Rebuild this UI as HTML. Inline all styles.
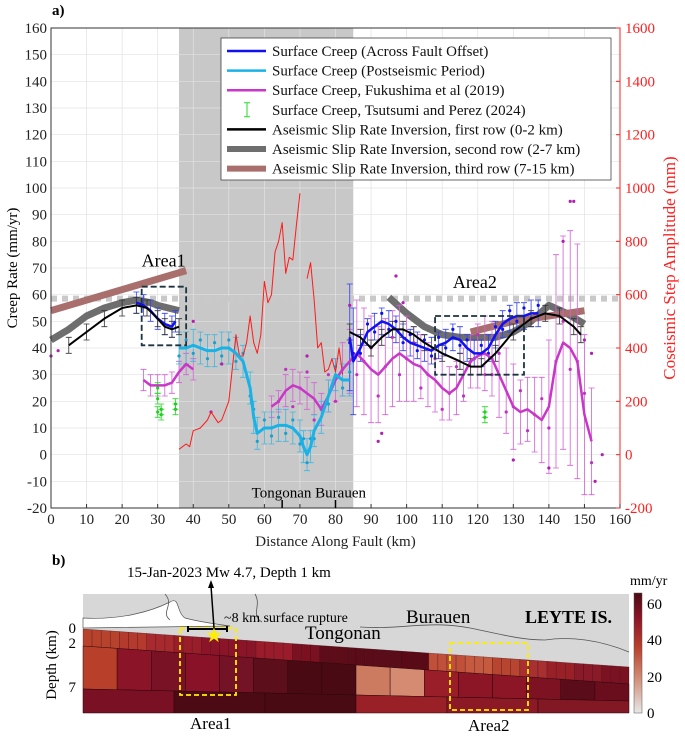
<!DOCTYPE html>
<html><head><meta charset="utf-8"><style>
body{margin:0;background:#fff;}
svg, svg text{font-family:"Liberation Serif","Times New Roman",serif !important;}
</style></head><body>
<svg id="fig" width="685" height="734" viewBox="0 0 685 734" xmlns="http://www.w3.org/2000/svg">
<g id="pa"></g>
<g id="pb"></g>
</svg>
<script>
// ---------- Panel a data ----------
const blueKm1=[24,26,28,30,32,34,35];
const blueV1=[57,56,54,51,49,48,50];
const blueKm2=[84,85,87,89,91,93,95,97,99,101,103,105,107,109,111,113,115,117,119,121,123,125,127,129,131,133,135,137];
const blueV2=[44,35,40,46,48,50,49,47,44,42,41,40,39,41,42,44,43,40,38,38,40,45,49,51,52,52,53,53];
const cyanKm=[36,38,40,42,44,46,48,50,52,54,56,57,58,60,62,64,66,68,70,71,72,73,74,76,78,80,82,84];
const cyanV=[40,40,41,40,39,39,40,40,38,35,25,14,8,10,10,11,11,10,7,3,0,3,9,14,22,30,28,28];
const magKm1=[26,28,30,32,34,36,38,40];
const magV1=[28,26,26,26,27,31,34,32];
const magKm2=[62,64,66,68,70,72,74,76,78,80,82,84,86,88,90,92,94,96,98,100,102,104,106,108,110,112,114,116,118,120,122,124,126,128,130,132,134,136,138,140,142,144,146,148,150,152];
const magV2=[18,20,24,26,25,23,21,17,22,28,32,35,38,35,32,30,33,36,38,36,34,33,30,28,25,23,25,30,35,37,38,36,30,24,18,16,17,15,13,18,35,42,40,35,15,5];
const magErr2=[4,4,6,6,6,6,6,6,6,8,10,12,20,20,20,18,18,18,18,16,14,12,12,12,12,10,10,10,10,12,14,14,16,16,16,12,12,14,16,25,40,40,44,44,30,20];
const blackKm1=[5,10,15,20,24,27,30,32,34,36];
const blackV1=[41,46,51,55,56,55,51,48,47,48];
const blackKm2=[84,87,90,93,96,99,102,105,110,115,118,121,125,130,135,139,143,147,149];
const blackV2=[46,44,40,44,47,47,45,42,38,35,33,33,38,46,51,53,52,48,45];
const grayKm1=[0,5,10,15,20,24,28,30,36];
const grayV1=[43,47,52,55,57,58,57,56,54];
const grayKm2=[95,100,105,110,115,120,125,130,135,140,145,150];
const grayV2=[59,53,48,45,44,44,44,46,50,56,53,49];
const brownKm1=[0,38];
const brownV1=[54,69];
const brownKm2=[118,130,150];
const brownV2=[46,50,54];
const redKm=[36,38,39,40,42,44,45,46,47,48,50,52,53,54,55,56,57,58,59,60,61,62,63,64,65,66,67,68,69,70];
const redMm=[20,40,30,90,100,130,160,140,120,130,200,450,370,370,420,520,420,380,450,650,570,600,760,800,870,680,740,730,860,980];
const redKm2=[72,73,74,75,76,77,78,79,80,81,82];
const redMm2=[660,720,580,400,420,310,320,360,310,400,300];
const greenKm=[30,30,30,31,31,35,35,122,122];
const greenV=[25,21,16,15,17,19,17,16,14];
const dotKm=[0,2,84,150,152,146,147,40,48,45,72,93,92,97,130,140,153,155,144,99,124];
const dotV=[37,39,56,43,38,95,95,50,34,16,37,8,5,67,-2,-5,-10,-0,80,57,30];
const xTicks=[0,10,20,30,40,50,60,70,80,90,100,110,120,130,140,150,160];
const yTicks=[-20,-10,0,10,20,30,40,50,60,70,80,90,100,110,120,130,140,150,160];
const y2Ticks=[-200,0,200,400,600,800,1000,1200,1400,1600];

const NS="http://www.w3.org/2000/svg";
function mk(parent,tag,attrs,name,txt){const e=document.createElementNS(NS,tag);for(const k in attrs)e.setAttribute(k,attrs[k]);


if(tag==='text')e.style.fontFamily="'Liberation Serif', serif";
if(txt!==undefined)e.textContent=txt;parent.appendChild(e);return e;}
const X0=51,X1=620,Y0=508,Y1=28;
const xs=v=>X0+(v-0)/160*(X1-X0);
const ys=v=>Y0-(v+20)/180*(Y0-Y1);
const ys2=v=>Y0-(v+200)/1800*(Y0-Y1);
const pa=document.getElementById('pa');
mk(pa,'rect',{x:xs(36),y:Y1,width:xs(85)-xs(36),height:Y0-Y1,fill:'#c8c8c8'},'postseismic-shading');
xTicks.forEach(t=>mk(pa,'line',{x1:xs(t),x2:xs(t),y1:Y1,y2:Y0,stroke:'#e2e2e2','stroke-width':0.7},'x-grid-line'));
yTicks.forEach(t=>mk(pa,'line',{x1:X0,x2:X1,y1:ys(t),y2:ys(t),stroke:'#e2e2e2','stroke-width':0.7},'y-grid-line'));
mk(pa,'line',{x1:X0,x2:X1,y1:ys(58.5),y2:ys(58.5),stroke:'#c9c9c9','stroke-width':6,'stroke-dasharray':'6,5'},'reference-line');
function line(km,v,col,w,name,yf){const f=yf||ys;mk(pa,'polyline',{points:km.map((k,i)=>xs(k)+','+f(v[i])).join(' '),fill:'none',stroke:col,'stroke-width':w,'stroke-linejoin':'round'},name);}
function errs(km,v,e,col,name){km.forEach((k,i)=>{const x=xs(k),a=ys(v[i]-e[i]),b=ys(v[i]+e[i]);
mk(pa,'path',{d:`M${x},${a}V${b}M${x-3},${a}h6M${x-3},${b}h6`,stroke:col,'stroke-width':0.8,fill:'none'},name);});}
function dots(km,v,col,name){km.forEach((k,i)=>mk(pa,'circle',{cx:xs(k),cy:ys(v[i]),r:1.6,fill:col},name));}
line(grayKm1,grayV1,'#6e6e6e',7,'second-row-line-area1');
line(grayKm2,grayV2,'#6e6e6e',7,'second-row-line-area2');
line(brownKm1,brownV1,'#a86f6c',7,'third-row-line-left');
line(brownKm2,brownV2,'#a86f6c',7,'third-row-line-right');
errs(magKm1,magV1,magKm1.map(()=>4),'#d65fd6','fukushima-errorbar');
errs(magKm2,magV2,magErr2,'#d65fd6','fukushima-errorbar');
errs(cyanKm,cyanV,cyanKm.map(()=>6),'#3fb6e0','postseismic-errorbar');
errs(blueKm1,blueV1,blueKm1.map(()=>4),'#3040f0','across-fault-errorbar');
errs(blueKm2,blueV2,blueKm2.map((k)=>k<86?20:5),'#3040f0','across-fault-errorbar');
errs(blackKm1,blackV1,blackKm1.map(()=>3),'#333','first-row-errorbar');
errs(blackKm2,blackV2,blackKm2.map(()=>3),'#333','first-row-errorbar');
errs(greenKm,greenV,greenKm.map(()=>2),'#22dd22','tsutsumi-errorbar');
dots(magKm2,magV2.map((v,i)=>v+(i%3-1)*8),'#c030c0','fukushima-point');
dots(cyanKm,cyanV.map((v,i)=>v+(i%2?3:-3)),'#1aa0d0','postseismic-point');
dots(blueKm2,blueV2.map((v,i)=>v+(i%2?3:-2)),'#1010ee','across-fault-point');
dots(dotKm,dotV,'#b020b0','scatter-point');
dots(greenKm,greenV,'#22cc22','tsutsumi-point');
line(redKm,redMm,'#ff1a1a',1,'coseismic-step-line',ys2);
line(redKm2,redMm2,'#ff1a1a',1,'coseismic-step-line-2',ys2);
line(magKm1,magV1,'#c837c8',2.5,'fukushima-line-1');
line(magKm2,magV2,'#c837c8',2.5,'fukushima-line-2');
line(cyanKm,cyanV,'#19b2e6',3,'postseismic-line');
line(blueKm1,blueV1,'#1010f0',2.5,'across-fault-line-1');
line(blueKm2,blueV2,'#1010f0',2.5,'across-fault-line-2');
line(blackKm1,blackV1,'#000',2,'first-row-line-1');
line(blackKm2,blackV2,'#000',2,'first-row-line-2');
mk(pa,'rect',{x:xs(25.5),y:ys(63),width:xs(38)-xs(25.5),height:ys(41)-ys(63),fill:'none',stroke:'#1c3340','stroke-width':1.8,'stroke-dasharray':'6,3'},'area1-box');
mk(pa,'rect',{x:xs(108),y:ys(52),width:xs(133)-xs(108),height:ys(30)-ys(52),fill:'none',stroke:'#1c3340','stroke-width':1.8,'stroke-dasharray':'6,3'},'area2-box');
mk(pa,'text',{x:xs(25.5),y:ys(70.5),'font-size':18},'area1-label','Area1');
mk(pa,'text',{x:xs(113),y:ys(62.5),'font-size':18},'area2-label','Area2');
mk(pa,'rect',{x:X0,y:Y1,width:X1-X0,height:Y0-Y1,fill:'none',stroke:'#333','stroke-width':1},'plot-frame');
mk(pa,'line',{x1:X1,x2:X1,y1:Y1,y2:Y0,stroke:'#ff2020','stroke-width':1},'right-axis-line');
xTicks.forEach(t=>{mk(pa,'line',{x1:xs(t),x2:xs(t),y1:Y0,y2:Y0-4,stroke:'#333'},'x-tick');
mk(pa,'text',{x:xs(t),y:Y0+16,'font-size':15,'text-anchor':'middle',fill:'#222'},'x-tick-label',t);});
yTicks.forEach(t=>mk(pa,'text',{x:X0-4,y:ys(t)+5,'font-size':15,'text-anchor':'end',fill:'#222'},'y-tick-label',t));
y2Ticks.forEach(t=>{mk(pa,'line',{x1:X1,x2:X1-4,y1:ys2(t),y2:ys2(t),stroke:'#ff2020'},'y2-tick');
mk(pa,'text',{x:X1+5,y:ys2(t)+5,'font-size':15,fill:'#ff2020'},'y2-tick-label',t);});
mk(pa,'text',{x:xs(80),y:546,'font-size':15,'text-anchor':'middle',fill:'#222'},'x-axis-title','Distance Along Fault (km)');
mk(pa,'text',{x:17,y:ys(70),'font-size':15,'text-anchor':'middle',transform:`rotate(-90 17 ${ys(70)})`},'y-axis-title','Creep Rate (mm/yr)');
mk(pa,'text',{x:675,y:ys(70),'font-size':17,'text-anchor':'middle',fill:'#ff2020',transform:`rotate(-90 675 ${ys(70)})`},'y2-axis-title','Coseismic Step Amplitude (mm)');
mk(pa,'text',{x:52,y:15,'font-size':15,'font-weight':'bold'},'panel-a-label','a)');
mk(pa,'text',{x:xs(72.5),y:ys(-16),'font-size':15,'text-anchor':'middle'},'town-labels','Tongonan  Burauen');
[65,80].forEach(k=>mk(pa,'line',{x1:xs(k),x2:xs(k),y1:Y0,y2:Y0-8,stroke:'#000','stroke-width':1.5},'town-tick'));
const lg=mk(pa,'g',{},'legend');
mk(lg,'rect',{x:221,y:38,width:390,height:142,fill:'#fff',stroke:'#444','stroke-width':0.8},'legend-box');
const legNames=['Surface Creep (Across Fault Offset)','Surface Creep (Postseismic Period)','Surface Creep, Fukushima et al (2019)','Surface Creep, Tsutsumi and Perez (2024)','Aseismic Slip Rate Inversion, first row (0-2 km)','Aseismic Slip Rate Inversion, second row (2-7 km)','Aseismic Slip Rate Inversion, third row (7-15 km)'];
const legCols=['#1010f0','#19b2e6','#c837c8','#22dd22','#000','#6e6e6e','#a86f6c'];
const legW=[2.5,2.5,2.5,1,2.5,6,6];
legNames.forEach((n,i)=>{const y=51+i*19.6;
if(i===3){mk(lg,'path',{d:`M247,${y-7}V${y+7}M244,${y-7}h6M244,${y+7}h6`,stroke:'#22dd22','stroke-width':1,fill:'none'},'legend-swatch');}
else mk(lg,'line',{x1:227,x2:266,y1:y,y2:y,stroke:legCols[i],'stroke-width':legW[i]},'legend-swatch');
mk(lg,'text',{x:272,y:y+5,'font-size':15,fill:'#111'},'legend-entry',n);});

// ---------- Panel b ----------
const pb=document.getElementById('pb');
const row1Cols=['#b8432c','#b43a2e','#a82a2e','#9a1e2a','#8c1428','#8a1428','#9a1c2a','#7a1020','#5e0c18','#5a0c18','#5a0c18','#5a0a16','#c0503a','#c55a3e','#b8452f','#a83030','#9a2028','#8a1a28','#7a1222'];
const row2Cols=['#b8402a','#8c1428','#7a1226','#8a1228','#741226','#5c0e1a','#4a0a14','#4a0a14','#cc7a60','#d58a72','#9a1e2a','#8c1626','#8c1626','#7c1222','#5a0c1a','#6a0e1e'];
const row3Cols=['#7a1024','#4c0a14','#4a0a14','#9a2028','#8c1a26','#821824'];
const BX0=83,BX1=629;
const topY=x=>629+(x-BX0)/(BX1-BX0)*38;
const midY=x=>646+(x-BX0)/(BX1-BX0)*38;
const botY=x=>689+(x-BX0)/(BX1-BX0)*12;
mk(pb,'rect',{x:BX0,y:594,width:BX1-BX0,height:119,fill:'#fff'},'map-bg');
mk(pb,'path',{d:`M${BX0},594 L629,594 L629,${topY(629)} L${BX0},${topY(BX0)} Z`,fill:'#d7d7d7'},'land-area');
mk(pb,'path',{d:`M${BX0},618 C120,620 150,612 170,602 C180,596 176,612 185,618 C200,622 215,624 230,626 L${BX0},628 Z`,fill:'#fff',stroke:'#555','stroke-width':0.7},'sea-area');
mk(pb,'path',{d:`M165,594 C175,605 160,612 170,620 M255,594 C262,606 250,615 262,622 M360,627 C400,630 430,620 470,628 C500,634 520,640 545,640 C570,636 600,640 629,652`,fill:'none',stroke:'#555','stroke-width':0.8},'coastline');
const n1=60;
for(let i=0;i<n1;i++){const a=BX0+(BX1-BX0)*i/n1,b=BX0+(BX1-BX0)*(i+1)/n1;const c=row1Cols[Math.floor(i/n1*row1Cols.length)];
mk(pb,'path',{d:`M${a},${topY(a)}L${b},${topY(b)}L${b},${midY(b)}L${a},${midY(a)}Z`,fill:c,stroke:'#3a0a10','stroke-width':0.3},'slip-cell-row1');}
row2Cols.forEach((c,i)=>{const a=BX0+(BX1-BX0)*i/row2Cols.length,b=BX0+(BX1-BX0)*(i+1)/row2Cols.length;
mk(pb,'path',{d:`M${a},${midY(a)}L${b},${midY(b)}L${b},${botY(b)}L${a},${botY(a)}Z`,fill:c,stroke:'#2a0508','stroke-width':0.5},'slip-cell-row2');});
row3Cols.forEach((c,i)=>{const a=BX0+(BX1-BX0)*i/row3Cols.length,b=BX0+(BX1-BX0)*(i+1)/row3Cols.length;
mk(pb,'path',{d:`M${a},${botY(a)}L${b},${botY(b)}L${b},713L${a},713Z`,fill:c,stroke:'#2a0508','stroke-width':0.5},'slip-cell-row3');});
mk(pb,'rect',{x:180,y:628,width:56,height:67,fill:'none',stroke:'#ffee00','stroke-width':1.8,'stroke-dasharray':'5,3'},'area1-box-b');
mk(pb,'rect',{x:450,y:643,width:78,height:67,fill:'none',stroke:'#ffee00','stroke-width':1.8,'stroke-dasharray':'5,3'},'area2-box-b');
mk(pb,'path',{d:'M188,629h39M188,626v6M227,626v6',stroke:'#000','stroke-width':2,fill:'none'},'rupture-bar');
mk(pb,'text',{x:214,y:642,'font-size':20,fill:'#ffee00','text-anchor':'middle'},'epicenter-star','★');
mk(pb,'path',{d:'M214,628L211,586',stroke:'#000','stroke-width':1.5},'arrow-line');
mk(pb,'path',{d:'M211,580l-3,8h6z',fill:'#000'},'arrow-head');
mk(pb,'text',{x:127,y:577,'font-size':15},'event-label','15-Jan-2023 Mw 4.7, Depth 1 km');
mk(pb,'text',{x:224,y:622,'font-size':14},'rupture-label','~8 km surface rupture');
mk(pb,'text',{x:305,y:639,'font-size':19},'tongonan-label','Tongonan');
mk(pb,'text',{x:406,y:623,'font-size':19},'burauen-label','Burauen');
mk(pb,'text',{x:525,y:623,'font-size':18,'font-weight':'bold'},'leyte-label','LEYTE IS.');
mk(pb,'text',{x:52,y:565,'font-size':15,'font-weight':'bold'},'panel-b-label','b)');
mk(pb,'text',{x:76,y:633,'font-size':15,'text-anchor':'end'},'depth-tick-0','0');
mk(pb,'text',{x:76,y:648,'font-size':15,'text-anchor':'end'},'depth-tick-2','2');
mk(pb,'text',{x:76,y:692,'font-size':15,'text-anchor':'end'},'depth-tick-7','7');
mk(pb,'text',{x:56,y:665,'font-size':15,'text-anchor':'middle',transform:'rotate(-90 56 665)'},'depth-axis-title','Depth (km)');
mk(pb,'text',{x:190,y:729,'font-size':17},'area1-label-b','Area1');
mk(pb,'text',{x:468,y:731,'font-size':17},'area2-label-b','Area2');
const defs=mk(pb,'defs',{},'defs');
const gr=mk(defs,'linearGradient',{id:'cb',x1:0,y1:1,x2:0,y2:0},'colorbar-gradient');
[['0','#e8e8e8'],['0.3','#d08a74'],['0.55','#b8402c'],['0.8','#8a1426'],['1','#4a0a12']].forEach(s=>mk(gr,'stop',{offset:s[0],'stop-color':s[1]},'gradient-stop'));
mk(pb,'rect',{x:634,y:593,width:8,height:120,fill:'url(#cb)',stroke:'#555','stroke-width':0.5},'colorbar');
[[0,713],[20,677],[40,640],[60,604]].forEach(t=>mk(pb,'text',{x:647,y:t[1]+5,'font-size':15},'colorbar-tick-label',t[0]));
mk(pb,'text',{x:630,y:585,'font-size':14},'colorbar-title','mm/yr');
</script>
</body></html>
